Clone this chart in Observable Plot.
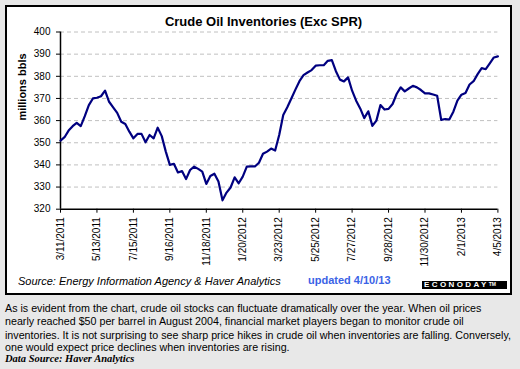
<!DOCTYPE html>
<html><head><meta charset="utf-8">
<script src="https://cdn.jsdelivr.net/npm/d3@7"></script>
<script src="https://cdn.jsdelivr.net/npm/@observablehq/plot@0.6"></script>
<style>
html,body{margin:0;padding:0;}
body{width:520px;height:369px;background:#e8e8e8;position:relative;overflow:hidden;font-family:"Liberation Sans",Arial,sans-serif;color:#000;}
#box{position:absolute;left:5px;top:5px;width:507px;height:290px;border:2px solid #000;box-sizing:border-box;background:#fff;}
#chart{position:absolute;left:0;top:0;}
.t{position:absolute;white-space:nowrap;}
#title{left:263.5px;top:15px;transform:translateX(-50%);font-size:13px;line-height:13px;font-weight:bold;}
#source{left:18px;top:276.2px;font-size:11px;line-height:11px;font-style:italic;}
#updated{left:308px;top:274.7px;font-size:11px;line-height:11px;font-weight:bold;color:#3b63e6;}
#logo{position:absolute;left:422px;top:280.7px;width:85px;height:8.8px;background:#000;color:#fff;font-size:8px;line-height:8.8px;font-weight:bold;letter-spacing:2.4px;padding-left:2px;box-sizing:border-box;white-space:nowrap;overflow:hidden;}
#logo sup{font-size:5px;letter-spacing:0;vertical-align:top;line-height:6px;}
.p{left:5px;font-size:10.7px;line-height:10.7px;}
#ds{left:5px;font-family:"Liberation Serif","Times New Roman",serif;font-style:italic;font-weight:bold;font-size:10.5px;line-height:10.5px;}
</style></head>
<body>
<div id="box"></div>
<div id="chart"></div>
<div class="t" id="title">Crude Oil Inventories (Exc SPR)</div>
<div class="t" id="source">Source: Energy Information Agency &amp; Haver Analytics</div>
<div class="t" id="updated">updated 4/10/13</div>
<div id="logo">ECONODAY<sup>TM</sup></div>
<div class="t p" style="top:302.9px">As is evident from the chart, crude oil stocks can fluctuate dramatically over the year. When oil prices</div>
<div class="t p" style="top:316.4px">nearly reached $50 per barrel in August 2004, financial market players began to monitor crude oil</div>
<div class="t p" style="top:329.9px">inventories. It is not surprising to see sharp price hikes in crude oil when inventories are falling. Conversely,</div>
<div class="t p" style="top:342.4px">one would expect price declines when inventories are rising.</div>
<div class="t" id="ds" style="top:353.8px">Data Source: Haver Analytics</div>
<script>
// Weekly crude oil inventories (millions bbls), 3/11/2011 .. 4/5/2013
const weeklyValues = [
  351, 352.5, 355.5, 357.5, 359, 357.5, 362, 367, 370, 370.3,
  371, 373.5, 368.5, 366, 363.5, 359.5, 358.5, 355, 352, 354,
  354, 350.2, 353.5, 352, 356.8, 353, 346, 340, 340.5, 336.6,
  337.2, 333.6, 337.7, 339.2, 338.2, 337, 331.4, 335, 336, 332.5,
  324, 327.5, 329.8, 334.4, 331.7, 334.7, 339.2, 339.3, 339.3, 341,
  345, 346, 347.4, 346.5, 353.5, 362.5, 366, 370, 374, 377.8,
  380.5, 381.7, 382.8, 384.8, 385, 385, 387, 387.3, 382.3, 378.5,
  377.7, 379.5, 373.5, 369, 365.5, 361.1, 364.2, 357.6, 360, 367,
  365, 365.3, 367.5, 372, 375, 373.2, 374.5, 375.7, 375, 373.8,
  372.3, 372.3, 371.8, 371.2, 360.3, 360.7, 360.5, 364, 369, 371.7,
  372.5, 376.3, 377.8, 381, 383.7, 383.2, 385.8, 388.5, 389
];
const xTickLabels = ["3/11/2011","5/13/2011","7/15/2011","9/16/2011","11/18/2011","1/20/2012","3/23/2012","5/25/2012","7/27/2012","9/28/2012","11/30/2012","2/1/2013","4/5/2013"];
const yTicks = [320, 330, 340, 350, 360, 370, 380, 390, 400];
const yLabel = "millions bbls";

const parse = d3.utcParse("%m/%d/%Y");
const xTickDates = xTickLabels.map(parse);
const start = xTickDates[0];
const end = xTickDates[xTickDates.length - 1];
const data = weeklyValues.map((v, i) => ({date: d3.utcDay.offset(start, 7 * i), value: v}));
const fmt = d => `${d.getUTCMonth() + 1}/${d.getUTCDate()}/${d.getUTCFullYear()}`;

const chart = Plot.plot({
  width: 520,
  height: 270,
  marginLeft: 60,
  marginRight: 22.6,
  marginTop: 31.5,
  marginBottom: 61.3,
  style: {background: "transparent", color: "#000", fontFamily: "'Liberation Sans', Arial, sans-serif", fontSize: "10px", overflow: "visible"},
  x: {type: "utc", domain: [start, end]},
  y: {domain: [320, 400]},
  marks: [
    Plot.gridY(yTicks.filter(d => d > 320), {stroke: "#c0c0c0", strokeOpacity: 1, strokeWidth: 1, strokeDasharray: "4,3"}),
    Plot.axisY({ticks: yTicks, tickSize: 4, tickPadding: 6, tickFormat: d => String(d), label: null, fontSize: 10, stroke: "#000"}),
    Plot.axisX({ticks: xTickDates, tickFormat: fmt, tickRotate: -90, tickSize: 4, tickPadding: 4, label: null, fontSize: 10, stroke: "#000"}),
    Plot.ruleX([start], {stroke: "#000", strokeWidth: 1.5}),
    Plot.ruleY([320], {stroke: "#000", strokeWidth: 1.5}),
    Plot.line(data, {x: "date", y: "value", stroke: "#000080", strokeWidth: 2.2}),
    Plot.text([yLabel], {frameAnchor: "left", dx: -38.5, rotate: -90, fontWeight: "bold", fontSize: 11, fill: "#000"})
  ]
});
document.getElementById("chart").appendChild(chart);
</script>
</body></html>
